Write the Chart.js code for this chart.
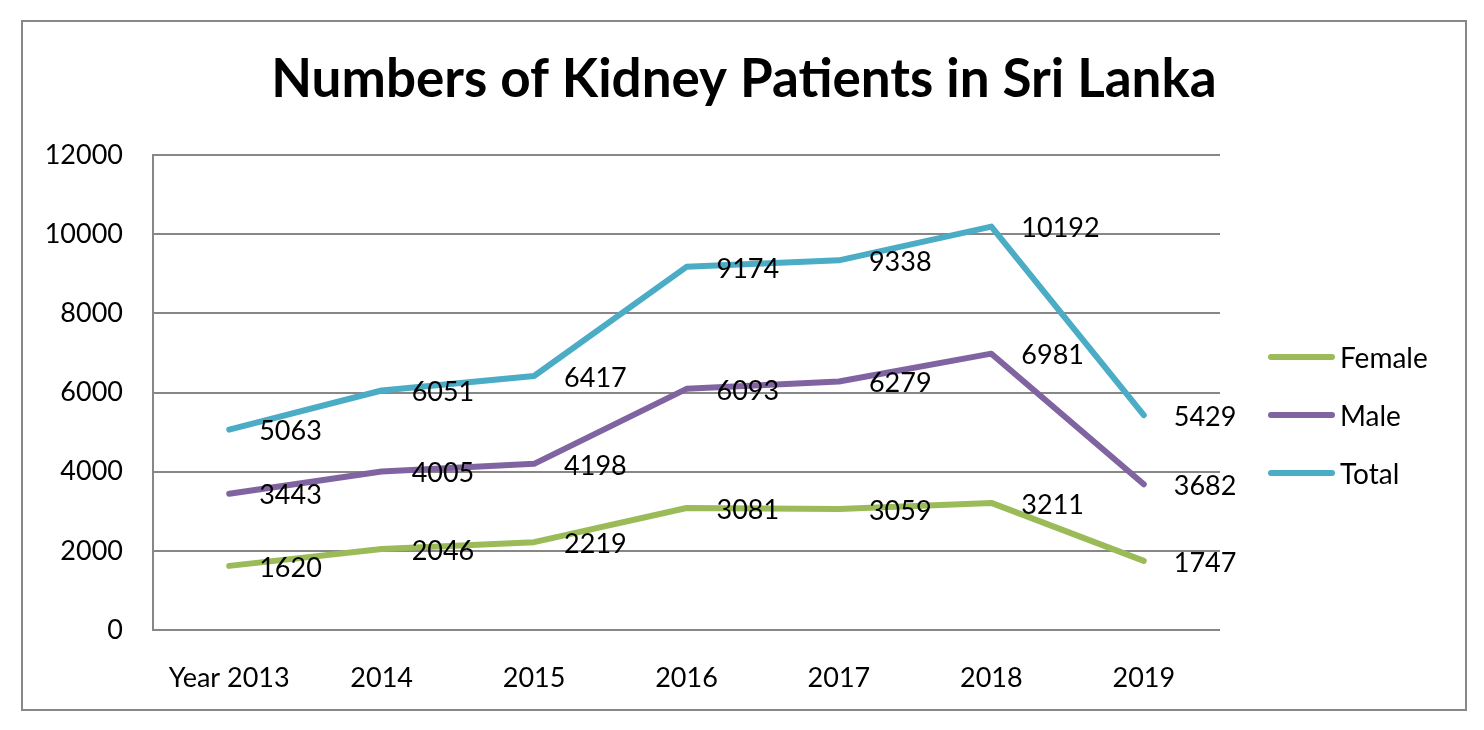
<!DOCTYPE html>
<html>
<head>
<meta charset="utf-8">
<title>Numbers of Kidney Patients in Sri Lanka</title>
<script src="https://cdn.jsdelivr.net/npm/chart.js@4"></script>
<style>
  body { margin: 0; background: #fff; }
  canvas { display: block; }
</style>
</head>
<body>
<canvas id="kidneyChart" width="1484" height="730"></canvas>
<script>
const years = ["Year 2013", "2014", "2015", "2016", "2017", "2018", "2019"];
const female = [1620, 2046, 2219, 3081, 3059, 3211, 1747];
const male = [3443, 4005, 4198, 6093, 6279, 6981, 3682];
const total = [5063, 6051, 6417, 9174, 9338, 10192, 5429];
const yTicks = [0, 2000, 4000, 6000, 8000, 10000, 12000];
const chartTitle = "Numbers of Kidney Patients in Sri Lanka";

const green = "#9bbb59";
const purple = "#8064a2";
const blue = "#4bacc6";
const gridGray = "#878787";
const font = "Lato, 'Open Sans', sans-serif";

// outer frame + title, centred over the whole frame like excel does
const framePlugin = {
    id: "frame",
    beforeDraw(chart) {
        const c = chart.ctx;
        c.save();
        c.fillStyle = "#fff";
        c.fillRect(0, 0, chart.width, chart.height);
        c.strokeStyle = "#888888";
        c.lineWidth = 2;
        c.strokeRect(22, 21, 1444, 689);
        c.fillStyle = "#000";
        c.font = "bold 53px " + font;
        c.textAlign = "center";
        c.textBaseline = "middle";
        c.fillText(chartTitle, 744, 80);
        c.restore();
    }
};

// value labels to the right of each point
const valueLabels = {
    id: "valueLabels",
    afterDatasetsDraw(chart) {
        const c = chart.ctx;
        c.save();
        c.font = "27px " + font;
        c.fillStyle = "#000";
        c.textAlign = "left";
        c.textBaseline = "middle";
        chart.data.datasets.forEach((ds, i) => {
            const meta = chart.getDatasetMeta(i);
            meta.data.forEach((pt, j) => {
                c.fillText(String(ds.data[j]), pt.x + 30, pt.y + 2);
            });
        });
        c.restore();
    }
};

// legend on the right with line markers
const sideLegend = {
    id: "sideLegend",
    afterDraw(chart) {
        const c = chart.ctx;
        c.save();
        c.font = "28px " + font;
        c.textAlign = "left";
        c.textBaseline = "middle";
        chart.data.datasets.forEach((ds, i) => {
            const y = 357 + i * 58;
            c.strokeStyle = ds.borderColor;
            c.lineWidth = 6;
            c.lineCap = "round";
            c.beginPath();
            c.moveTo(1271, y);
            c.lineTo(1332, y);
            c.stroke();
            c.fillStyle = "#000";
            c.fillText(ds.label, 1340, y + 2);
        });
        c.restore();
    }
};

const lineStyle = {
    borderWidth: 6,
    pointRadius: 0,
    tension: 0,
    borderCapStyle: "round",
    borderJoinStyle: "round",
    fill: false
};

new Chart(document.getElementById("kidneyChart"), {
    type: "line",
    data: {
        labels: years,
        datasets: [
            { label: "Female", data: female, borderColor: green, ...lineStyle },
            { label: "Male", data: male, borderColor: purple, ...lineStyle },
            { label: "Total", data: total, borderColor: blue, ...lineStyle }
        ]
    },
    options: {
        responsive: false,
        animation: false,
        layout: {
            padding: { left: 0, right: 264, top: 155, bottom: 0 }
        },
        plugins: {
            legend: { display: false },
            tooltip: { enabled: false },
            title: { display: false }
        },
        scales: {
            x: {
                offset: true,
                grid: { display: false },
                border: { display: false },
                ticks: {
                    color: "#000",
                    padding: 24,
                    maxRotation: 0,
                    font: { family: font, size: 27 }
                },
                afterFit(scale) { scale.height = 100; }
            },
            y: {
                min: 0,
                max: 12000,
                afterBuildTicks(scale) {
                    scale.ticks = yTicks.map(v => ({ value: v }));
                },
                grid: { color: gridGray, lineWidth: 2, drawTicks: false },
                border: { display: true, color: gridGray, width: 2 },
                ticks: {
                    color: "#000",
                    padding: 30,
                    font: { family: font, size: 27 },
                    callback: v => String(v)
                },
                afterFit(scale) { scale.width = 153; }
            }
        }
    },
    plugins: [framePlugin, valueLabels, sideLegend]
});
</script>
</body>
</html>
